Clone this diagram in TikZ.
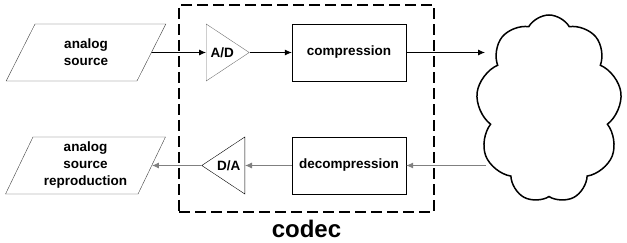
\documentclass[tikz,border=0pt]{standalone}
\usepackage{fontspec}
\setmainfont{Liberation Sans}
\usepackage{tikz}
\usetikzlibrary{shapes,arrows.meta,positioning,calc}

\begin{document}
\begin{tikzpicture}[x=1pt,y=1pt,
  font=\fontsize{13.5}{17}\selectfont\bfseries,
  every node/.style={align=center,inner sep=0pt},
  iobox/.style={draw=black!75,shape=trapezium,trapezium left angle=65,trapezium right angle=115,
    trapezium stretches=true,minimum width=160pt,minimum height=57pt},
  procbox/.style={draw,rectangle,minimum width=114pt,minimum height=57pt},
  amp/.style={draw,isosceles triangle,isosceles triangle stretches,minimum width=57pt,minimum height=43pt},
  sig/.style={-{Latex[length=7pt,width=6pt]},line width=0.8pt},
  ret/.style={sig,draw=black!50}]

\useasboundingbox (0,0) rectangle (627,-243);

% codec boundary
\node[draw,dashed,dash pattern=on 11pt off 5pt,line width=1.2pt,minimum width=255pt,minimum height=207pt] (codecbox) at (306.5,-108.5) {};
\node[font=\fontsize{24}{28}\selectfont\bfseries] (codec) at (306.5,-229) {codec};

% Top row: sending side
\node[iobox] (src) at (86,-52.5) {analog\\source};
\node[amp,draw=black!55,anchor=lower side] (ad) at (206,-52.5) {A/D};
\node[procbox] (comp) at (349,-52.5) {compression};

% Bottom row: receiving side
\node[iobox] (repro) at (85.5,-165.5) {analog\\source\\reproduction};
\node[amp,shape border rotate=180,anchor=lower side] (da) at (245,-165.5) {D/A};
\node[procbox] (decomp) at (349,-165.5) {decompression};

% Network
\node[draw,cloud,cloud puffs=9,cloud puff arc=120,aspect=0.76,line width=1.5pt,
  minimum width=146pt,minimum height=188pt] (net) at (549,-109) {};
\coordinate (netin) at (485,-52.5);
\coordinate (netout) at (486,-165.5);

% Arrows
\draw[sig] (src.east) -- (ad.lower side);
\draw[sig] (ad.apex) -- (comp.west);
\draw[sig] (comp.east) -- (netin);
\draw[ret] (netout) -- (decomp.east);
\draw[ret] (decomp.west) -- (da.lower side);
\draw[ret] (da.apex) -- (repro.east);

\end{tikzpicture}
\end{document}
